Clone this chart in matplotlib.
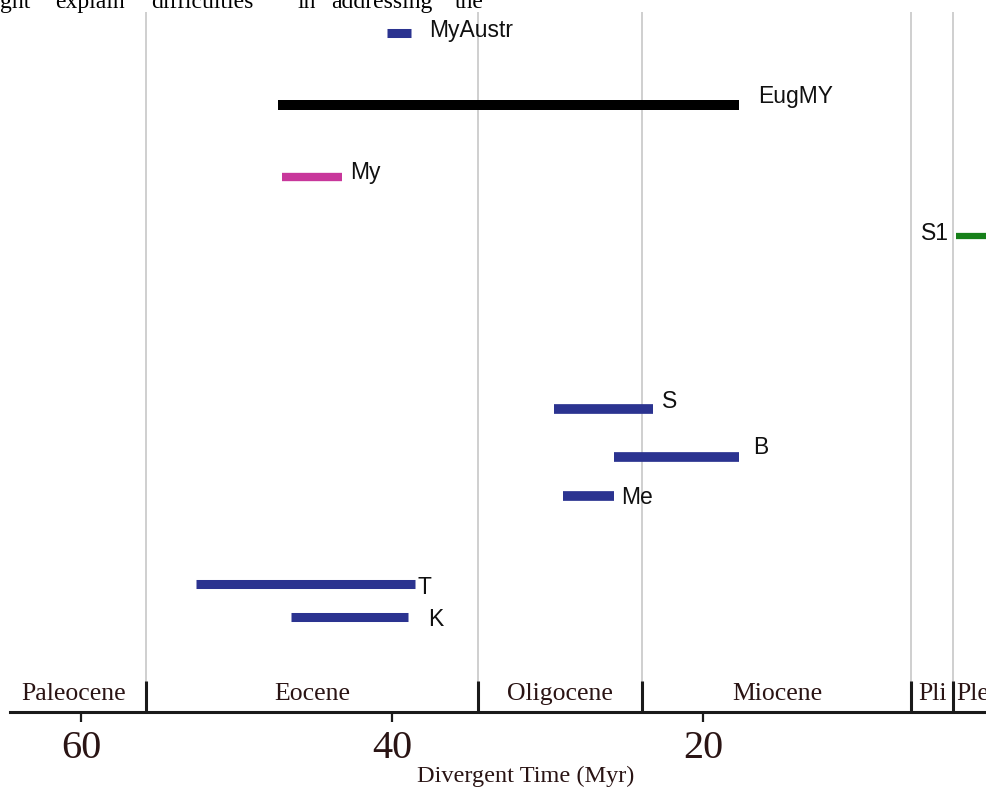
import matplotlib.pyplot as plt

# divergence time ranges (Myr), older end first
clades = ['MyAustr', 'EugMY', 'My', 'S1', 'S', 'B', 'Me', 'T', 'K']
older = [40.3, 47.3, 47.1, 3.7, 29.6, 25.7, 29.0, 52.6, 46.5]
younger = [38.8, 17.7, 43.2, 0.8, 23.2, 17.7, 25.7, 38.5, 39.0]
bar_colors = ['#2b3390', 'black', '#c8379b', '#17801a', '#2b3390',
              '#2b3390', '#2b3390', '#2b3390', '#2b3390']

# geological epochs and their boundaries (Myr)
epochs = ['Paleocene', 'Eocene', 'Oligocene', 'Miocene', 'Pli', 'Pleistocene']
boundaries = [55.8, 34.5, 23.9, 6.6, 3.9]
ticks = [60, 40, 20, 0]

# page text running above the figure
header_words = ['ght', 'explain', 'difficulties', 'in', 'addressing', 'the']

# layout (pixel rows from the top, label nudges in px)
lanes = [33, 105, 177, 236, 409, 457, 496, 584, 617]
bar_lw = [6.5, 7.2, 6.0, 4.5, 7.0, 7.0, 7.0, 6.5, 6.5]
nudge = [(18, -2), (19, -8), (8, -5), (-7, -2), (9, -7), (14, -9), (7, 1), (2, 4), (21, 2)]
header_x = [0, 55, 151, 298, 331, 455]

W, H = 987, 787
px = 15.55  # pixels per Myr
x40 = 392
t_at = lambda x: 40 - (x - x40) / px

fig = plt.figure(figsize=(W / 100, H / 100), dpi=100)
ax = fig.add_axes([0, 75 / H, 1030 / W, 712 / H])
ax.set_xlim(t_at(0), t_at(1030))
ax.set_ylim(712, 0)

serif = 'Liberation Serif'
sans = 'Liberation Sans'
dark = '#2a1414'

# epoch boundaries: light guide lines plus heavy ticks in the epoch band
ax.vlines(boundaries, 12, 682, color='#cccccc', lw=1.3, zorder=1)
ax.vlines(boundaries, 681, 712, color='#1a1a1a', lw=2.2, zorder=3)

edges = [t_at(0)] + boundaries
for i, name in enumerate(epochs):
    if i < len(boundaries):
        mid = (edges[i] + edges[i + 1]) / 2
        ax.text(mid, 694, name, ha='center', va='center', fontsize=18.5,
                family=serif, color=dark)
    else:
        ax.annotate(name, (edges[i], 694), xytext=(3, 0), textcoords='offset pixels',
                    ha='left', va='center', fontsize=18.5, family=serif, color=dark)

# time range bars
for i, c in enumerate(clades):
    ax.hlines(lanes[i], older[i], younger[i], color=bar_colors[i], lw=bar_lw[i],
              capstyle='butt', zorder=2)
    if c == 'S1':
        ax.annotate(c, (older[i], lanes[i]), xytext=(nudge[i][0], -nudge[i][1]),
                    textcoords='offset pixels', ha='right', va='center',
                    fontsize=16.5, family=sans, color='#111111')
    else:
        ax.annotate(c, (younger[i], lanes[i]), xytext=(nudge[i][0], -nudge[i][1]),
                    textcoords='offset pixels', ha='left', va='center',
                    fontsize=16.5, family=sans, color='#111111')

# time axis
for s in ['top', 'left', 'right']:
    ax.spines[s].set_visible(False)
ax.spines['bottom'].set_linewidth(2.2)
ax.spines['bottom'].set_color('#1a1a1a')
ax.spines['bottom'].set_bounds(t_at(10), t_at(1030))
ax.set_yticks([])
ax.set_xticks(ticks)
ax.set_xticklabels([str(t) for t in ticks])
ax.tick_params(axis='x', direction='out', length=7, width=1.6, color='#1a1a1a',
               pad=6, labelsize=29, labelcolor=dark)
for lab in ax.get_xticklabels():
    lab.set_family(serif)

fig.text(526 / W, 11 / H, 'Divergent Time (Myr)', ha='center', va='center',
         fontsize=17.5, family=serif, color=dark)

for word, x in zip(header_words, header_x):
    fig.text(x / W, 1 - 8 / H, word, ha='left', va='baseline', fontsize=17,
             family=serif, color='black')

fig.savefig('out.png', dpi=100)
